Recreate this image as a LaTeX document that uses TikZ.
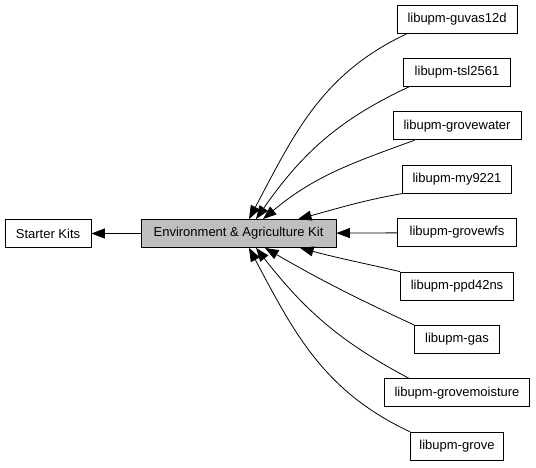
\documentclass[tikz,border=0pt]{standalone}
\usepackage{fontspec}
\setmainfont{Liberation Sans}
\usetikzlibrary{arrows.meta}

\begin{document}
\begin{tikzpicture}[x=1pt, y=-1pt]
\tikzset{ >={Triangle[length=13.5pt,width=10pt]},
  mod/.style={draw=black, fill=white, line width=0.8pt, minimum height=28pt, inner sep=0pt, font=\fontsize{13}{15}\selectfont},
  cur/.style={mod, fill=black!25},
  dep/.style={->, line width=0.8pt, black},
}

\useasboundingbox (0,0) rectangle (536,467);

\node [mod, minimum width=86pt]  (SK)  at (48,233.5)    {Starter Kits};
\node [cur, minimum width=195pt] (ENV) at (238.5,233.5) {Environment \& Agriculture Kit};

\node [mod, minimum width=120pt] (GUV) at (457,19)    {libupm-guvas12d};
\node [mod, minimum width=107pt] (TSL) at (457,72.4)  {libupm-tsl2561};
\node [mod, minimum width=128pt] (GWA) at (457,125.8) {libupm-grovewater};
\node [mod, minimum width=109pt] (MY)  at (457,179.2) {libupm-my9221};
\node [mod, minimum width=119pt] (GWF) at (457,232.6) {libupm-grovewfs};
\node [mod, minimum width=113pt] (PPD) at (457,286)   {libupm-ppd42ns};
\node [mod, minimum width=85pt]  (GAS) at (457,339.4) {libupm-gas};
\node [mod, minimum width=145pt] (GMO) at (457,392.8) {libupm-grovemoisture};
\node [mod, minimum width=93pt]  (GRV) at (457,446.2) {libupm-grove};

\draw [dep] (ENV) -- (SK);

\draw [dep] ([xshift=11pt]GUV.south west) to[out=205, in=62] ([xshift=10.5pt]ENV.north);
\draw [dep] ([xshift=6pt]TSL.south west)  to[out=205, in=55] ([xshift=17.5pt]ENV.north);
\draw [dep] ([xshift=22pt]GWA.south west) to[out=200, in=40] ([xshift=24.5pt]ENV.north);
\draw [dep] (MY.south west) to[out=190, in=15] ([xshift=59.5pt]ENV.north);
\draw [dep] (GWF) -- (ENV);
\draw [dep] (PPD.north west) to[out=167, in=-15] ([xshift=61.5pt]ENV.south);
\draw [dep] (GAS.north west) to[out=155, in=-30] ([xshift=26.5pt]ENV.south);
\draw [dep] ([xshift=25pt]GMO.north west) to[out=152, in=-52] ([xshift=17.5pt]ENV.south);
\draw [dep] (GRV.north west) to[out=155, in=-62] ([xshift=10.5pt]ENV.south);

\end{tikzpicture}
\end{document}
